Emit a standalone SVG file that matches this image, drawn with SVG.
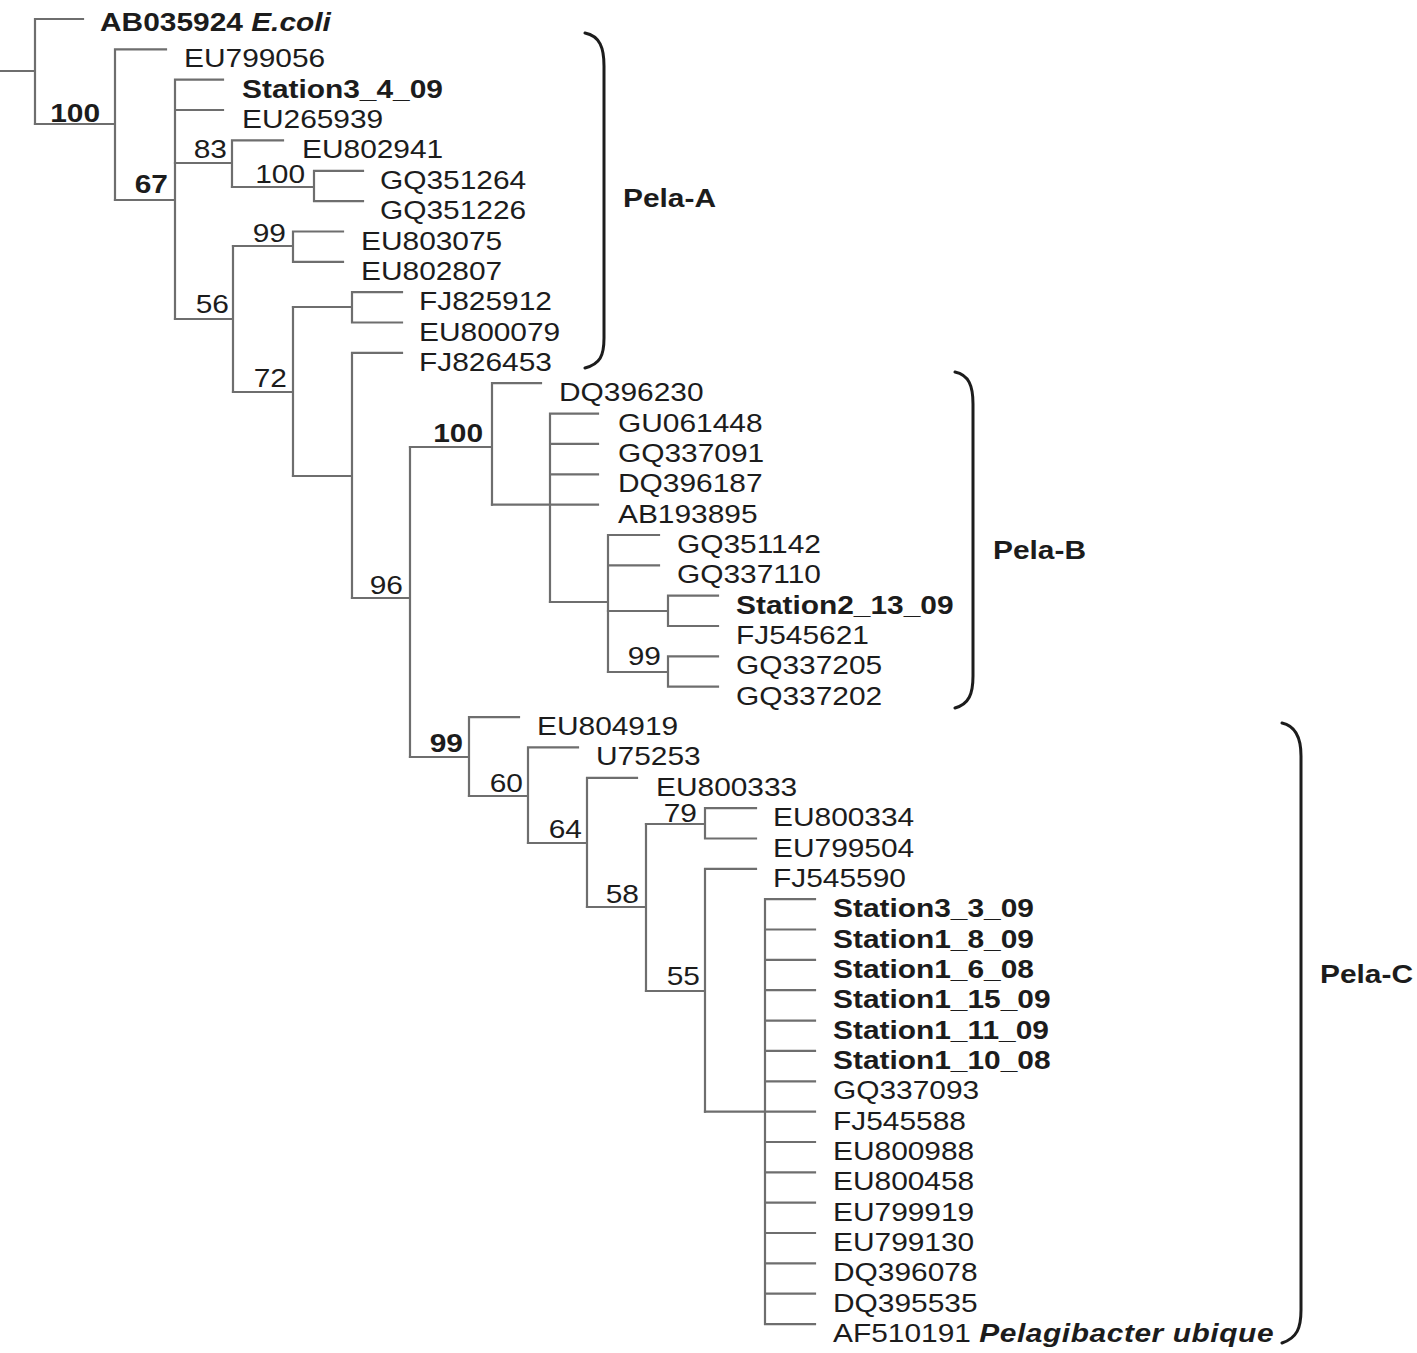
<svg xmlns="http://www.w3.org/2000/svg" width="1417" height="1353" viewBox="0 0 1417 1353">
<style>
.t{font-family:"Liberation Sans",Arial,Helvetica,sans-serif;font-size:26px;fill:#1c1c1c}
.b{font-weight:bold}
.bi{font-weight:bold;font-style:italic}
.s{text-anchor:end}
.e{fill:none;stroke:#6e6e6e;stroke-width:2.2;stroke-linecap:square}
.br{fill:none;stroke:#1c1c1c;stroke-width:3;stroke-linecap:round}
</style>
<rect width="1417" height="1353" fill="#ffffff"/>
<g id="connectors" class="e">
<path d="M0,71 H35 M35,19 V124 M35,19 H83"/>
<path d="M35,124 H115 M115,49.4 V200 M115,49.4 H166"/>
<path d="M115,200 H175 M175,79.7 V319 M175,79.7 H223 M175,110 H223"/>
<path d="M175,163 H232 M232,140.4 V187 M232,140.4 H283"/>
<path d="M232,187 H314 M314,170.8 V201.1 M314,170.8 H363 M314,201.1 H363"/>
<path d="M175,319 H233 M233,246 V392"/>
<path d="M233,246 H293 M293,231.5 V261.8 M293,231.5 H343 M293,261.8 H343"/>
<path d="M233,392 H293 M293,307 V476"/>
<path d="M293,307 H352 M352,292.2 V322.5 M352,292.2 H402 M352,322.5 H402"/>
<path d="M293,476 H352 M352,352.9 V598 M352,352.9 H402"/>
<path d="M352,598 H410 M410,447 V757"/>
<path d="M410,447 H492 M492,383.2 V504.6 M492,383.2 H541"/>
<path d="M492,504.6 H550 M550,413.6 V602 M550,413.6 H598 M550,443.9 H598 M550,474.3 H598 M550,504.6 H598"/>
<path d="M550,602 H608 M608,535 V672 M608,535 H659 M608,565.3 H659"/>
<path d="M608,611 H668 M668,595.7 V626 M668,595.7 H718 M668,626 H718"/>
<path d="M608,672 H668 M668,656.4 V686.7 M668,656.4 H718 M668,686.7 H718"/>
<path d="M410,757 H469 M469,717.1 V796 M469,717.1 H519"/>
<path d="M469,796 H528 M528,747.4 V843 M528,747.4 H578"/>
<path d="M528,843 H587 M587,777.8 V907 M587,777.8 H637"/>
<path d="M587,907 H646 M646,824 V991"/>
<path d="M646,824 H705 M705,808.1 V838.5 M705,808.1 H756 M705,838.5 H756"/>
<path d="M646,991 H705 M705,868.8 V1111.6 M705,868.8 H756"/>
<path d="M705,1111.6 H765 M765,899.2 V1324.1 M765,899.2 H815 M765,929.5 H815 M765,959.9 H815 M765,990.2 H815 M765,1020.6 H815 M765,1050.9 H815 M765,1081.3 H815 M765,1111.6 H815 M765,1142 H815 M765,1172.3 H815 M765,1202.7 H815 M765,1233 H815 M765,1263.4 H815 M765,1293.7 H815 M765,1324.1 H815"/>
</g>
<g id="leaves" class="t">
<g id="n0"><text class="b" transform="translate(100,31) scale(1.15,1)">AB035924 <tspan class="bi">E.coli</tspan></text></g>
<g id="n1"><text transform="translate(184,67.4) scale(1.15,1)">EU799056</text></g>
<g id="n2"><text class="b" transform="translate(242,97.7) scale(1.15,1)">Station3_4_09</text></g>
<g id="n3"><text transform="translate(242,128) scale(1.15,1)">EU265939</text></g>
<g id="n4"><text transform="translate(302,158.4) scale(1.15,1)">EU802941</text></g>
<g id="n5"><text transform="translate(380,188.8) scale(1.15,1)">GQ351264</text></g>
<g id="n6"><text transform="translate(380,219.1) scale(1.15,1)">GQ351226</text></g>
<g id="n7"><text transform="translate(361,249.5) scale(1.15,1)">EU803075</text></g>
<g id="n8"><text transform="translate(361,279.8) scale(1.15,1)">EU802807</text></g>
<g id="n9"><text transform="translate(419,310.2) scale(1.15,1)">FJ825912</text></g>
<g id="n10"><text transform="translate(419,340.5) scale(1.15,1)">EU800079</text></g>
<g id="n11"><text transform="translate(419,370.9) scale(1.15,1)">FJ826453</text></g>
<g id="n12"><text transform="translate(559,401.2) scale(1.15,1)">DQ396230</text></g>
<g id="n13"><text transform="translate(618,431.6) scale(1.15,1)">GU061448</text></g>
<g id="n14"><text transform="translate(618,461.9) scale(1.15,1)">GQ337091</text></g>
<g id="n15"><text transform="translate(618,492.3) scale(1.15,1)">DQ396187</text></g>
<g id="n16"><text transform="translate(618,522.6) scale(1.15,1)">AB193895</text></g>
<g id="n17"><text transform="translate(677,553) scale(1.15,1)">GQ351142</text></g>
<g id="n18"><text transform="translate(677,583.3) scale(1.15,1)">GQ337110</text></g>
<g id="n19"><text class="b" transform="translate(736,613.7) scale(1.15,1)">Station2_13_09</text></g>
<g id="n20"><text transform="translate(736,644) scale(1.15,1)">FJ545621</text></g>
<g id="n21"><text transform="translate(736,674.4) scale(1.15,1)">GQ337205</text></g>
<g id="n22"><text transform="translate(736,704.7) scale(1.15,1)">GQ337202</text></g>
<g id="n23"><text transform="translate(537,735.1) scale(1.15,1)">EU804919</text></g>
<g id="n24"><text transform="translate(596,765.4) scale(1.15,1)">U75253</text></g>
<g id="n25"><text transform="translate(656,795.8) scale(1.15,1)">EU800333</text></g>
<g id="n26"><text transform="translate(773,826.1) scale(1.15,1)">EU800334</text></g>
<g id="n27"><text transform="translate(773,856.5) scale(1.15,1)">EU799504</text></g>
<g id="n28"><text transform="translate(773,886.8) scale(1.15,1)">FJ545590</text></g>
<g id="n29"><text class="b" transform="translate(833,917.2) scale(1.15,1)">Station3_3_09</text></g>
<g id="n30"><text class="b" transform="translate(833,947.5) scale(1.15,1)">Station1_8_09</text></g>
<g id="n31"><text class="b" transform="translate(833,977.9) scale(1.15,1)">Station1_6_08</text></g>
<g id="n32"><text class="b" transform="translate(833,1008.2) scale(1.15,1)">Station1_15_09</text></g>
<g id="n33"><text class="b" transform="translate(833,1038.6) scale(1.15,1)">Station1_11_09</text></g>
<g id="n34"><text class="b" transform="translate(833,1068.9) scale(1.15,1)">Station1_10_08</text></g>
<g id="n35"><text transform="translate(833,1099.3) scale(1.15,1)">GQ337093</text></g>
<g id="n36"><text transform="translate(833,1129.6) scale(1.15,1)">FJ545588</text></g>
<g id="n37"><text transform="translate(833,1160) scale(1.15,1)">EU800988</text></g>
<g id="n38"><text transform="translate(833,1190.3) scale(1.15,1)">EU800458</text></g>
<g id="n39"><text transform="translate(833,1220.7) scale(1.15,1)">EU799919</text></g>
<g id="n40"><text transform="translate(833,1251) scale(1.15,1)">EU799130</text></g>
<g id="n41"><text transform="translate(833,1281.4) scale(1.15,1)">DQ396078</text></g>
<g id="n42"><text transform="translate(833,1311.7) scale(1.15,1)">DQ395535</text></g>
<g id="n43"><text transform="translate(833,1342.1) scale(1.15,1)">AF510191 <tspan class="bi" letter-spacing="0.5">Pelagibacter ubique</tspan></text></g>
</g>
<g id="support" class="t s">
<g id="s1"><text class="b" transform="translate(100,122) scale(1.15,1)">100</text></g>
<g id="s2"><text class="b" transform="translate(168,193) scale(1.15,1)">67</text></g>
<g id="s3"><text transform="translate(227,158) scale(1.15,1)">83</text></g>
<g id="s4"><text transform="translate(305,183) scale(1.15,1)">100</text></g>
<g id="s5"><text transform="translate(286,242) scale(1.15,1)">99</text></g>
<g id="s6"><text transform="translate(229,313) scale(1.15,1)">56</text></g>
<g id="s7"><text transform="translate(287,387) scale(1.15,1)">72</text></g>
<g id="s8"><text transform="translate(403,594) scale(1.15,1)">96</text></g>
<g id="s9"><text class="b" transform="translate(483,442) scale(1.15,1)">100</text></g>
<g id="s10"><text transform="translate(661,665) scale(1.15,1)">99</text></g>
<g id="s11"><text class="b" transform="translate(463,752) scale(1.15,1)">99</text></g>
<g id="s12"><text transform="translate(523,792) scale(1.15,1)">60</text></g>
<g id="s13"><text transform="translate(582,838) scale(1.15,1)">64</text></g>
<g id="s14"><text transform="translate(639,903) scale(1.15,1)">58</text></g>
<g id="s15"><text transform="translate(697,821.5) scale(1.15,1)">79</text></g>
<g id="s16"><text transform="translate(700,985) scale(1.15,1)">55</text></g>
</g>
<g id="clades">
<g id="pela-a"><path class="br" d="M585,33 C600,36 604,48 604,66 L604,338 C604,356 600,364 585,368"/><text class="t b" transform="translate(623,207) scale(1.15,1)">Pela-A</text></g>
<g id="pela-b"><path class="br" d="M955,372 C969,375 973,386 973,404 L973,676 C973,694 969,704 955,708"/><text class="t b" transform="translate(993,559) scale(1.15,1)">Pela-B</text></g>
<g id="pela-c"><path class="br" d="M1282,723 C1296,726 1301,738 1301,756 L1301,1310 C1301,1328 1297,1338 1282,1343"/><text class="t b" transform="translate(1320,983) scale(1.15,1)">Pela-C</text></g>
</g>
</svg>
